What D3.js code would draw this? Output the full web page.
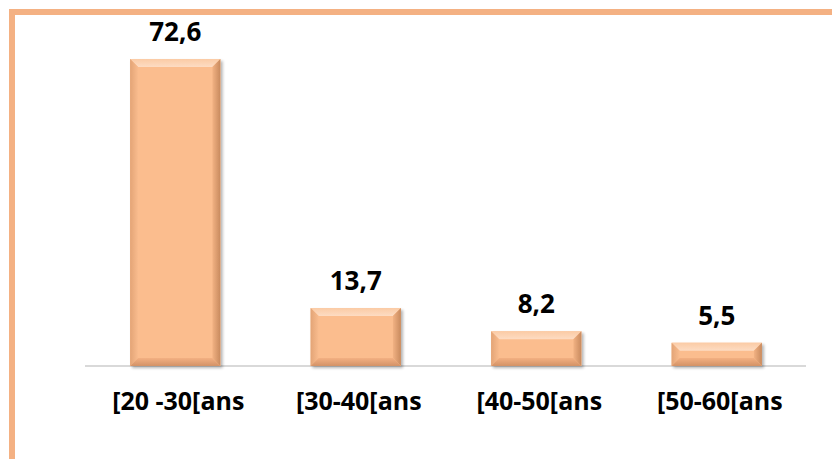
<!DOCTYPE html>
<html>
<head>
<meta charset="utf-8">
<script src="https://cdn.jsdelivr.net/npm/d3@7"></script>
<style>
  body { margin: 0; background: #fff; }
</style>
</head>
<body>
<div id="container"></div>
<script>
// age groups and their share (%)
let categories = ["[20 -30[ans", "[30-40[ans", "[40-50[ans", "[50-60[ans"];
let values = [72.6, 13.7, 8.2, 5.5];
let valueLabels = ["72,6", "13,7", "8,2", "5,5"];

let w = 832;
let h = 459;
let baseY = 366;
let topY = 59;

let viz = d3.select("#container")
  .append("svg")
    .attr("width", w)
    .attr("height", h)
    .style("background-color", "white");

let defs = viz.append("defs");

// soft shadow under bars
let shadow = defs.append("filter").attr("id", "shadow")
  .attr("x", "-20%").attr("y", "-20%").attr("width", "140%").attr("height", "140%");
shadow.append("feGaussianBlur").attr("in", "SourceAlpha").attr("stdDeviation", 1.5);
shadow.append("feOffset").attr("dx", 1.5).attr("dy", 2).attr("result", "off");
shadow.append("feComponentTransfer").append("feFuncA").attr("type", "linear").attr("slope", 0.3);
let merge = shadow.append("feMerge");
merge.append("feMergeNode");
merge.append("feMergeNode").attr("in", "SourceGraphic");

// bevel gradients
function grad(id, x1, y1, x2, y2, c1, c2){
  let g = defs.append("linearGradient").attr("id", id)
    .attr("x1", x1).attr("y1", y1).attr("x2", x2).attr("y2", y2);
  g.append("stop").attr("offset", "0%").attr("stop-color", c1);
  g.append("stop").attr("offset", "100%").attr("stop-color", c2);
}
grad("gTop", 0, 0, 0, 1, "#FBCBA5", "#FDDCC3");
grad("gLeft", 0, 0, 1, 0, "#E3A476", "#F9BC8E");
grad("gRight", 0, 0, 1, 0, "#F2B283", "#C88A5E");
grad("gBottom", 0, 0, 0, 1, "#F3B082", "#D39266");

// orange frame (runs off the right and bottom edges)
viz.append("rect")
  .attr("x", 12).attr("y", 12)
  .attr("width", w).attr("height", h)
  .attr("fill", "none")
  .attr("stroke", "#F4B183")
  .attr("stroke-width", 6);

let xScale = d3.scaleBand().domain(categories).range([85, 807]).paddingInner(0.5).paddingOuter(0.25);
let yScale = d3.scaleLinear().domain([0, 72.6]).range([baseY, topY]);

// axis line
viz.append("line")
  .attr("x1", 85).attr("x2", 806)
  .attr("y1", baseY).attr("y2", baseY)
  .attr("stroke", "#D9D9D9")
  .attr("stroke-width", 2);

let data = categories.map(function(c, i){ return {cat: c, val: values[i], lab: valueLabels[i]}; });

let bars = viz.selectAll(".bar").data(data).enter()
  .append("g")
    .attr("class", "bar")
    .attr("filter", "url(#shadow)");

let bev = 8;
function pts(arr){ return arr.map(function(p){ return p.join(","); }).join(" "); }

bars.each(function(d){
  let g = d3.select(this);
  let x0 = xScale(d.cat);
  let x1 = x0 + xScale.bandwidth();
  let y0 = yScale(d.val);
  let y1 = baseY;
  let b = Math.min(bev, (y1 - y0) / 2);
  g.append("rect").attr("x", x0).attr("y", y0).attr("width", x1 - x0).attr("height", y1 - y0).attr("fill", "#FBBD8E");
  g.append("polygon").attr("points", pts([[x0, y0], [x1, y0], [x1 - b, y0 + b], [x0 + b, y0 + b]])).attr("fill", "url(#gTop)");
  g.append("polygon").attr("points", pts([[x0, y0], [x0 + b, y0 + b], [x0 + b, y1 - b], [x0, y1]])).attr("fill", "url(#gLeft)");
  g.append("polygon").attr("points", pts([[x1, y0], [x1, y1], [x1 - b, y1 - b], [x1 - b, y0 + b]])).attr("fill", "url(#gRight)");
  g.append("polygon").attr("points", pts([[x0, y1], [x0 + b, y1 - b], [x1 - b, y1 - b], [x1, y1]])).attr("fill", "url(#gBottom)");
});

// value labels
viz.selectAll(".val").data(data).enter()
  .append("text")
    .attr("class", "val")
    .text(function(d){ return d.lab; })
    .attr("x", function(d){ return xScale(d.cat) + xScale.bandwidth() / 2; })
    .attr("y", function(d){ return yScale(d.val) - 18; })
    .attr("text-anchor", "middle")
    .attr("font-family", "'Open Sans', sans-serif")
    .attr("font-weight", "bold")
    .attr("font-size", 26)
    .attr("fill", "black");

// category labels
viz.selectAll(".cat").data(data).enter()
  .append("text")
    .attr("class", "cat")
    .text(function(d){ return d.cat; })
    .attr("x", function(d){ return xScale(d.cat) + xScale.bandwidth() / 2 + 3; })
    .attr("y", 410)
    .attr("text-anchor", "middle")
    .attr("font-family", "'Open Sans', sans-serif")
    .attr("font-weight", "bold")
    .attr("font-size", 25)
    .attr("fill", "black");
</script>
</body>
</html>
